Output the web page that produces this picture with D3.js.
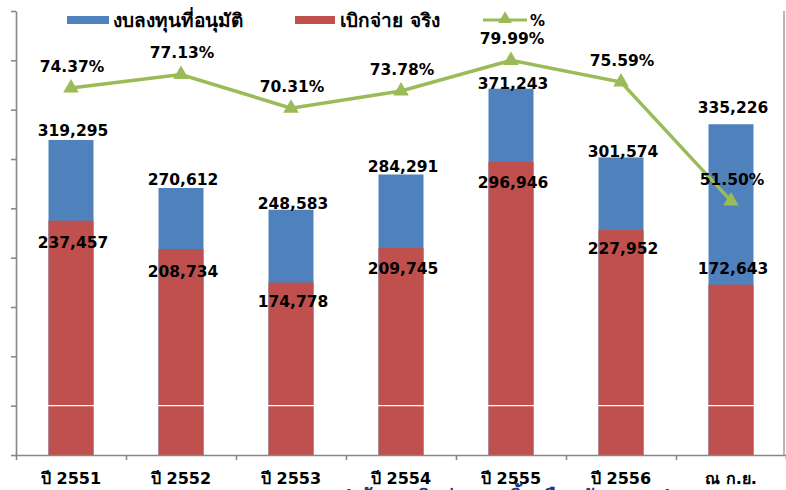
<!DOCTYPE html>
<html lang="th">
<head>
<meta charset="utf-8">
<script src="https://d3js.org/d3.v7.min.js"></script>
<style>
  body { margin: 0; background: #fff; }
  text { font-family: "DejaVu Sans", Tahoma, sans-serif; font-weight: bold; }
</style>
</head>
<body>
<script>
// chart data
var categories = ["ปี 2551", "ปี 2552", "ปี 2553", "ปี 2554", "ปี 2555", "ปี 2556", "ณ ก.ย."];
var approved = [319295, 270612, 248583, 284291, 371243, 301574, 335226];   // งบลงทุนที่อนุมัติ
var disbursed = [237457, 208734, 174778, 209745, 296946, 227952, 172643];  // เบิกจ่าย จริง
var percent = [74.37, 77.13, 70.31, 73.78, 79.99, 75.59, 51.50];
var seriesNames = ["งบลงทุนที่อนุมัติ", "เบิกจ่าย จริง", "%"];

// label nudges (the labels were placed by hand in the original)
var blueLabelDy = [-4, -3, -1, -2, 0, 0, -11];
var redLabelDy = [27, 28, 24, 26, 26, 24, -11];

var width = 786, height = 490;
var plotL = 16, plotR = 786, plotT = 11, plotB = 455;
var blue = "#4F81BD", red = "#C0504D", green = "#9BBB59", axisCol = "#878787";

var svg = d3.select("body").append("svg")
  .attr("width", width)
  .attr("height", height);

var x = d3.scaleBand().domain(categories).range([plotL, plotR]);
var xEdge = d3.scaleLinear().domain([0, categories.length]).range([plotL, plotR]);
var y = d3.scaleLinear().domain([0, 450000]).range([plotB, plotT]);
var y2 = d3.scaleLinear().domain([0, 90]).range([plotB, plotT]);
var barW = 45;
var fmt = d3.format(",");
var cx = function (i) { return x(categories[i]) + x.bandwidth() / 2; };

// bars: approved behind, disbursed in front (overlapped, not stacked)
svg.append("g").selectAll("rect")
  .data(approved)
  .join("rect")
  .attr("x", function (d, i) { return cx(i) - barW / 2; })
  .attr("y", function (d) { return y(d); })
  .attr("width", barW)
  .attr("height", function (d) { return y(0) - y(d); })
  .attr("fill", blue);

svg.append("g").selectAll("rect")
  .data(disbursed)
  .join("rect")
  .attr("x", function (d, i) { return cx(i) - barW / 2; })
  .attr("y", function (d) { return y(d); })
  .attr("width", barW)
  .attr("height", function (d) { return y(0) - y(d); })
  .attr("fill", red);

// white gridline at the first tick
svg.append("line")
  .attr("x1", plotL).attr("x2", plotR)
  .attr("y1", y(50000)).attr("y2", y(50000))
  .attr("stroke", "#fff").attr("stroke-width", 1.2);

// left axis (no labels)
var yAxis = svg.append("g")
  .attr("transform", "translate(" + plotL + ",0)")
  .call(d3.axisLeft(y).tickValues(d3.range(0, 450001, 50000)).tickSize(5).tickSizeOuter(0).tickFormat(""));
yAxis.selectAll("path, line").attr("stroke", axisCol).attr("stroke-width", 1.6);

// right frame line
svg.append("line")
  .attr("x1", 784).attr("x2", 784)
  .attr("y1", plotT).attr("y2", plotB)
  .attr("stroke", axisCol).attr("stroke-width", 1.2);

// bottom axis with ticks between categories
var xAxis = svg.append("g")
  .attr("transform", "translate(0," + plotB + ")")
  .call(d3.axisBottom(xEdge).tickValues(d3.range(0, categories.length + 1)).tickSize(5).tickSizeOuter(0).tickFormat(""));
xAxis.selectAll("path, line").attr("stroke", axisCol).attr("stroke-width", 1.6);

svg.append("g").selectAll("text")
  .data(categories)
  .join("text")
  .attr("x", function (d) { return x(d) + x.bandwidth() / 2; })
  .attr("y", 484)
  .attr("text-anchor", "middle")
  .attr("font-size", 16)
  .text(function (d) { return d; });

// cut-off note below the chart
svg.append("text")
  .attr("x", 508).attr("y", 504)
  .attr("text-anchor", "middle")
  .attr("font-size", 20)
  .attr("font-weight", "normal")
  .attr("fill", "#1F3A7A")
  .text("( ข้อมูลเบิกจ่าย ณ สิ้นเดือนกันยายน )");

// percent line
var line = d3.line()
  .x(function (d, i) { return cx(i); })
  .y(function (d) { return y2(d); });

svg.append("path")
  .datum(percent)
  .attr("d", line)
  .attr("fill", "none")
  .attr("stroke", green)
  .attr("stroke-width", 3.5);

var tri = d3.symbol().type(d3.symbolTriangle).size(105);
svg.append("g").selectAll("path")
  .data(percent)
  .join("path")
  .attr("d", tri)
  .attr("transform", function (d, i) { return "translate(" + cx(i) + "," + y2(d) + ")"; })
  .attr("fill", green);

// data labels
svg.append("g").selectAll("text")
  .data(approved)
  .join("text")
  .attr("x", function (d, i) { return cx(i) + 2; })
  .attr("y", function (d, i) { return y(d) + blueLabelDy[i]; })
  .attr("text-anchor", "middle")
  .attr("font-size", 15.5)
  .text(function (d) { return fmt(d); });

svg.append("g").selectAll("text")
  .data(disbursed)
  .join("text")
  .attr("x", function (d, i) { return cx(i) + 2; })
  .attr("y", function (d, i) { return y(d) + redLabelDy[i]; })
  .attr("text-anchor", "middle")
  .attr("font-size", 15.5)
  .text(function (d) { return fmt(d); });

svg.append("g").selectAll("text")
  .data(percent)
  .join("text")
  .attr("x", function (d, i) { return cx(i) + 1; })
  .attr("y", function (d) { return y2(d) - 16; })
  .attr("text-anchor", "middle")
  .attr("font-size", 15.5)
  .text(function (d) { return d.toFixed(2) + "%"; });

// legend
var lg = svg.append("g");
lg.append("rect").attr("x", 67).attr("y", 16).attr("width", 42).attr("height", 8).attr("fill", blue);
lg.append("text").attr("x", 113).attr("y", 27).attr("font-size", 19).text(seriesNames[0]);
lg.append("rect").attr("x", 295).attr("y", 16).attr("width", 40).attr("height", 8).attr("fill", red);
lg.append("text").attr("x", 340).attr("y", 27).attr("font-size", 19).text(seriesNames[1]);
lg.append("line").attr("x1", 483).attr("x2", 527).attr("y1", 20).attr("y2", 20)
  .attr("stroke", green).attr("stroke-width", 3);
lg.append("path").attr("d", d3.symbol().type(d3.symbolTriangle).size(80)).attr("transform", "translate(505,19)").attr("fill", green);
lg.append("text").attr("x", 530).attr("y", 26).attr("font-size", 15).text(seriesNames[2]);
</script>
</body>
</html>
